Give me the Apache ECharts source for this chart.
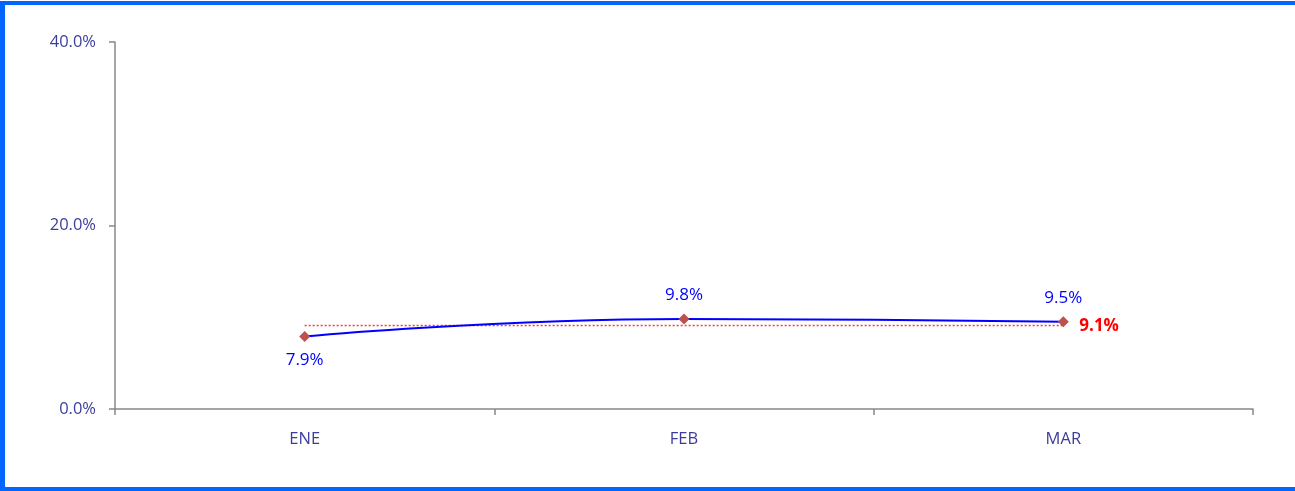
<!DOCTYPE html>
<html>
<head>
<meta charset="utf-8">
<script src="https://cdn.jsdelivr.net/npm/echarts@6/dist/echarts.min.js"></script>
<style>
  html, body { margin: 0; padding: 0; background: #fff; }
  #chart { position: absolute; left: 0; top: 0; width: 1295px; height: 491px; }
  #frame {
    position: absolute; left: 0; top: 1px; width: 1295px; height: 490px;
    box-sizing: border-box; pointer-events: none;
    border-top: 4px solid #0066ff; border-left: 5px solid #0066ff; border-bottom: 4px solid #0066ff;
  }
</style>
</head>
<body>
<div id="chart"></div>
<div id="frame"></div>
<script>
var months = ['ENE', 'FEB', 'MAR'];
var values = [7.9, 9.8, 9.5];
var labelSide = ['bottom', 'top', 'top'];
var average = 9.1;

var dom = document.getElementById('chart');
var myChart = echarts.init(dom, null, { renderer: 'canvas' });

var font = '"Open Sans", Lato, sans-serif';
var axisText = { color: '#3c3c9c', fontSize: 16.5, fontFamily: font };

var option = {
  animation: false,
  grid: { left: 115, right: 42, top: 42, bottom: 82 },
  xAxis: {
    type: 'category',
    data: months,
    boundaryGap: true,
    axisLine: { lineStyle: { color: '#888888', width: 1.5 } },
    axisTick: { show: true, length: 6, lineStyle: { color: '#888888', width: 1.5 } },
    axisLabel: Object.assign({ margin: 22 }, axisText),
    splitLine: { show: false }
  },
  yAxis: {
    type: 'value',
    min: 0,
    max: 40,
    interval: 20,
    axisLine: { show: true, lineStyle: { color: '#888888', width: 1.5 } },
    axisTick: { show: true, length: 6, lineStyle: { color: '#888888', width: 1.5 } },
    axisLabel: Object.assign({ margin: 19, formatter: function (v) { return v.toFixed(1) + '%'; } }, axisText),
    splitLine: { show: false }
  },
  series: [
    {
      name: 'Promedio',
      type: 'line',
      data: months.map(function () { return average; }),
      showSymbol: false,
      symbol: 'none',
      lineStyle: { color: '#e8403c', width: 1.5, type: [2, 2] },
      endLabel: {
        show: true,
        formatter: function (p) { return p.value.toFixed(1) + '%'; },
        color: '#ff0000',
        fontWeight: 'bold',
        fontSize: 17,
        fontFamily: font,
        distance: 16,
        offset: [0, 1]
      },
      z: 1
    },
    {
      name: 'Mensual',
      type: 'line',
      smooth: 0.5,
      data: values.map(function (v, i) {
        return { value: v, label: { position: labelSide[i] } };
      }),
      symbol: 'diamond',
      symbolSize: 11,
      itemStyle: { color: '#c0504d' },
      lineStyle: { color: '#0000ff', width: 2 },
      label: {
        show: true,
        distance: 10,
        color: '#0000ff',
        fontSize: 17,
        fontFamily: font,
        formatter: function (p) { return p.value.toFixed(1) + '%'; }
      },
      z: 3
    }
  ]
};

myChart.setOption(option);
window.addEventListener('resize', myChart.resize);
</script>
</body>
</html>
